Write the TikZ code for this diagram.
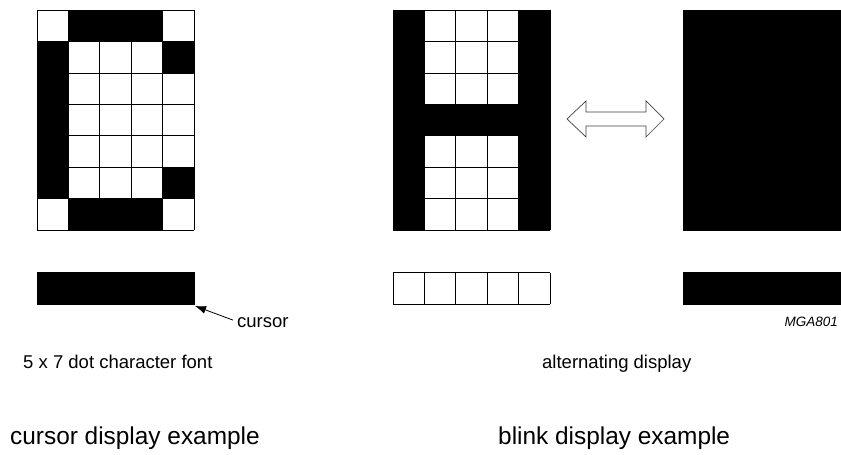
\documentclass[tikz,border=0pt]{standalone}
\usepackage{fontspec}
\setmainfont{Liberation Sans}
\usetikzlibrary{arrows.meta}
\tikzset{
  dotgrid/.style={line width=0.9pt, step=31.4pt},
  smalltxt/.style={font=\fontsize{18.5}{22}\selectfont, inner sep=0pt},
  bigtxt/.style={font=\fontsize{24.4}{28}\selectfont, inner sep=0pt},
  codetxt/.style={font=\fontsize{13.5}{16}\selectfont\itshape, inner sep=0pt},
  pointer/.style={-{Latex[length=11pt,width=8pt]}, line width=0.8pt},
  swapper/.style={line width=0.7pt, draw=black!75, fill=white}
}

\begin{document}
\begin{tikzpicture}[x=1pt,y=1pt]
		\useasboundingbox (0,0) rectangle (841,455);
		%%%%% START %%%%%
		% character C
		\begin{scope}[shift={(37,225)}, x=31.4pt, y=31.4pt]
			\fill (1,6) rectangle (4,7);
			\fill (0,1) rectangle (1,6);
			\fill (4,5) rectangle (5,6);
			\fill (4,1) rectangle (5,2);
			\fill (1,0) rectangle (4,1);
			\draw[dotgrid] (0,0) grid (5,7);
		\end{scope}
		
		% cursor line under C
		\begin{scope}[shift={(37,151)}, x=31.4pt, y=31.4pt]
			\fill (0,0) rectangle (5,1);
			\draw[dotgrid] (0,0) rectangle (5,1);
		\end{scope}
		
		% character H
		\begin{scope}[shift={(393,225)}, x=31.4pt, y=31.4pt]
			\fill (0,0) rectangle (1,7);
			\fill (4,0) rectangle (5,7);
			\fill (1,3) rectangle (4,4);
			\draw[dotgrid] (0,0) grid (5,7);
		\end{scope}
		
		% empty cursor line under H
		\begin{scope}[shift={(393,151)}, x=31.4pt, y=31.4pt]
			\draw[dotgrid] (0,0) grid (5,1);
		\end{scope}
		
		% all dots on
		\begin{scope}[shift={(683,225)}, x=31.4pt, y=31.4pt]
			\fill (0,0) rectangle (5,7);
			\draw[dotgrid] (0,0) rectangle (5,7);
		\end{scope}
		\begin{scope}[shift={(683,151)}, x=31.4pt, y=31.4pt]
			\fill (0,0) rectangle (5,1);
			\draw[dotgrid] (0,0) rectangle (5,1);
		\end{scope}
		
		% alternating arrow
		\draw[swapper] (567,336) -- (586,354) -- (586,343) -- (646,343) -- (646,354) -- (664,336)
			-- (646,318) -- (646,329) -- (586,329) -- (586,318) -- cycle;
		
		% labels
		\node[smalltxt, anchor=base west] (cursorlbl) at (237,127) {cursor};
		\coordinate (cursortip) at (195,149);
		\draw[pointer] ([xshift=-4pt,yshift=3pt]cursorlbl.west) -- (cursortip);
		
		\node[codetxt, anchor=base east] (codelbl) at (838,128) {MGA801};
		\node[smalltxt, anchor=base west] (fontlbl) at (23,86) {5 x 7 dot character font};
		\node[smalltxt, anchor=base west] (altlbl) at (542,86) {alternating display};
		\node[bigtxt, anchor=base west] (cursortitle) at (10,10) {cursor display example};
		\node[bigtxt, anchor=base west] (blinktitle) at (498,10) {blink display example};
		%%%%% END %%%%%
	\end{tikzpicture}
\end{document}
